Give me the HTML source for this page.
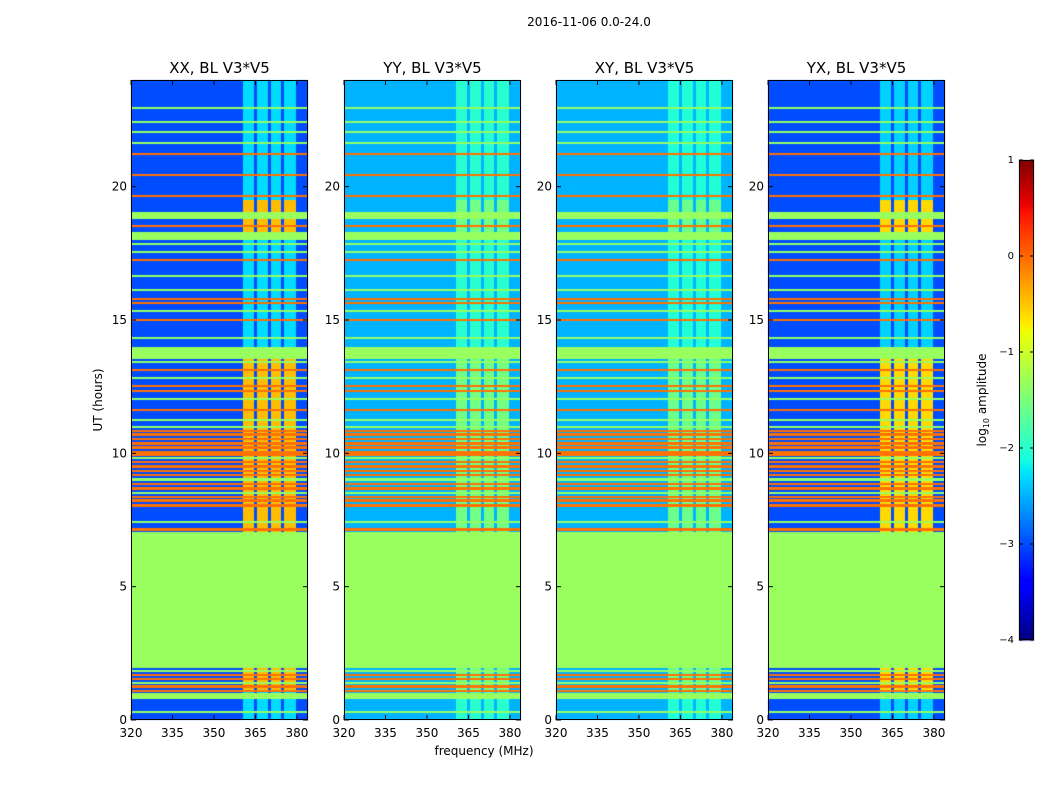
<!DOCTYPE html>
<html><head><meta charset="utf-8">
<style>
body{margin:0;background:#fff;width:1050px;height:800px;overflow:hidden;position:relative;font-family:"DejaVu Sans","Liberation Sans",sans-serif;}
canvas{position:absolute;display:block}
svg{position:absolute;left:0;top:0}
</style></head>
<body>
<canvas id="heat" width="1050" height="800"></canvas>
<svg id="ax" width="1050" height="800"></svg>
<script>
// ---- data ----
const panelTitles = ["XX, BL V3*V5","YY, BL V3*V5","XY, BL V3*V5","YX, BL V3*V5"];
const panelBase = [-3.0,-2.5,-2.5,-3.0];        // background log10 amplitude
const panelActive = [-2.3,-2.0,-2.05,-2.35];    // 360-380 MHz region
const panelHot = [-0.45,-1.55,-1.6,-0.6];       // hot spans in region
const activeRange = [360.4,379.7];
const gapFreqs = [365,370,374.8];
const hotSpans = [[1.1,1.95],[7.05,13.55],[18.3,19.5]];
// full-width bands: [startHour, endHour, log10 amplitude]
const bands = [
[0.28,0.35,-1.35],[0.8,1.0,-1.32],[1.04,1.13,-0.05],[1.2,1.3,-0.05],[1.35,1.43,-1.35],[1.49,1.57,-0.05],[1.65,1.73,-0.05],[1.8,1.87,-1.35],
[1.95,7.05,-1.32],[7.1,7.2,-0.05],[7.4,7.47,-1.35],
[8.0,8.1,-0.05],[8.18,8.27,-0.05],[8.33,8.41,-0.05],[8.48,8.55,-1.35],[8.62,8.72,-0.05],[8.8,8.9,-0.05],[8.96,9.06,-1.35],
[9.14,9.24,-0.05],[9.3,9.39,-0.05],[9.46,9.56,-0.05],[9.62,9.71,-0.05],[9.78,9.85,-1.35],[9.9,10.1,-0.05],[10.18,10.27,-0.05],
[10.32,10.42,-0.05],[10.5,10.59,-0.05],[10.66,10.75,-0.05],[10.8,10.89,-0.05],[10.94,11.02,-1.35],
[11.2,11.27,-1.35],[11.6,11.68,-0.05],[12.0,12.07,-1.35],[12.3,12.38,-0.05],[12.5,12.58,-0.05],[12.8,12.87,-1.35],[13.1,13.18,-0.05],
[13.4,13.47,-1.35],[13.55,14.0,-1.32],[14.3,14.37,-1.35],[14.97,15.05,-0.05],[15.3,15.37,-1.35],[15.6,15.68,-0.05],[15.75,15.82,-0.05],
[16.1,16.17,-1.35],[16.6,16.67,-1.35],[17.2,17.28,-0.05],[17.5,17.57,-1.35],[17.8,17.87,-1.35],[18.0,18.3,-1.32],[18.5,18.58,-0.05],
[18.8,19.05,-1.32],[19.6,19.67,-0.05],[20.4,20.47,-0.05],[21.2,21.27,-0.05],[21.6,21.67,-1.35],[22.0,22.07,-1.35],[22.4,22.47,-1.35],[22.9,22.97,-1.35]
];
const xTicks = [320,335,350,365,380];
const yTicks = [0,5,10,15,20];
const cbTicks = [-4,-3,-2,-1,0,1];

// ---- geometry ----
const px0 = [131,344,556,768], pw = 177, py0 = 80, ph = 640;
const fMin = 320, fMax = 384, hMax = 24;
const xS = (i,f)=> px0[i] + (f-fMin)/(fMax-fMin)*pw;
const xInv = (i,x)=> fMin + (x-px0[i])/pw*(fMax-fMin);
const yS = h => py0 + ph - h/hMax*ph;
const yInv = y => (py0+ph-y)/ph*hMax;
// matplotlib jet segment data
const R=[[0,0],[0.35,0],[0.66,1],[0.89,1],[1,0.5]], G=[[0,0],[0.125,0],[0.375,1],[0.64,1],[0.91,0],[1,0]], B=[[0,0.5],[0.11,1],[0.34,1],[0.65,0],[1,0]];
function seg(s,t){for(let k=1;k<s.length;k++){if(t<=s[k][0]){const a=s[k-1],b=s[k];return a[1]+(b[1]-a[1])*(t-a[0])/(b[0]-a[0]);}}return s[s.length-1][1];}
function jetRGB(v){const t=Math.max(0,Math.min(1,(v+4)/5));return [seg(R,t),seg(G,t),seg(B,t)].map(x=>Math.round(255*x));}

const ctx = document.getElementById('heat').getContext('2d');
function level(i,h,f){
  for(const b of bands){ if(h>=b[0]&&h<b[1]) return b[2]; }
  if(f>=activeRange[0]&&f<activeRange[1]){
    for(const g of gapFreqs){ if(Math.abs(f-g)<0.6) return panelBase[i]; }
    for(const s of hotSpans){ if(h>=s[0]&&h<s[1]) return panelHot[i]; }
    return panelActive[i];
  }
  return panelBase[i];
}
for(let i=0;i<4;i++){
  const img = ctx.createImageData(pw,ph);
  for(let r=0;r<ph;r++){
    const h=yInv(py0+r+0.5);
    for(let c=0;c<pw;c++){
      const f=xInv(i,px0[i]+c+0.5);
      const col=jetRGB(level(i,h,f));
      const o=(r*pw+c)*4;
      img.data[o]=col[0];img.data[o+1]=col[1];img.data[o+2]=col[2];img.data[o+3]=255;
    }
  }
  ctx.putImageData(img,px0[i],py0);
}
// colorbar
for(let k=0;k<480;k++){const c=jetRGB(-4+5*k/480);ctx.fillStyle=`rgb(${c[0]},${c[1]},${c[2]})`;ctx.fillRect(1019,640-k-1,15,1.5);}

// ---- axes svg ----
const svg = document.getElementById('ax'), NS="http://www.w3.org/2000/svg";
function el(tag,attrs,txt){const e=document.createElementNS(NS,tag);for(const k in attrs)e.setAttribute(k,attrs[k]);if(txt!==undefined)e.textContent=txt;svg.appendChild(e);return e;}
for(let i=0;i<4;i++){
  const f=el('rect',{x:px0[i]+0.5,y:py0+0.5,width:pw-1,height:ph-1,fill:'none',stroke:'#000','stroke-width':1});
  
  
  const t=el('text',{x:px0[i]+pw/2,y:73,'text-anchor':'middle','font-size':15},panelTitles[i]);
  
  
  for(const v of xTicks){const x=xS(i,v);
    el('line',{x1:x,x2:x,y1:py0+ph,y2:py0+ph-5,stroke:'#000'});el('line',{x1:x,x2:x,y1:py0,y2:py0+5,stroke:'#000'});
    const l=el('text',{x:x,y:737,'text-anchor':'middle','font-size':12},String(v));
    
    }
  for(const v of yTicks){const y=yS(v);
    el('line',{x1:px0[i],x2:px0[i]+5,y1:y,y2:y,stroke:'#000'});el('line',{x1:px0[i]+pw,x2:px0[i]+pw-5,y1:y,y2:y,stroke:'#000'});
    const l=el('text',{x:px0[i]-4,y:y+4,'text-anchor':'end','font-size':12},String(v));
    
    }
}
const st=el('text',{x:589,y:26,'text-anchor':'middle','font-size':12},'2016-11-06 0.0-24.0');


const xl=el('text',{x:484,y:755,'text-anchor':'middle','font-size':12},'frequency (MHz)');


const yl=el('text',{x:102,y:400,'text-anchor':'middle','font-size':12,transform:'rotate(-90 102 400)'},'UT (hours)');


const cbf=el('rect',{x:1019.5,y:160.5,width:14,height:479,fill:'none',stroke:'#000'});


for(const v of cbTicks){const y=640-(v+4)/5*480;
  el('line',{x1:1019,x2:1023,y1:y,y2:y,stroke:'#000'});el('line',{x1:1034,x2:1030,y1:y,y2:y,stroke:'#000'});
  const l=el('text',{x:1014,y:y+3,'text-anchor':'end','font-size':10},v<0?'\u2212'+(-v):String(v));
  
  }
const cl=el('text',{x:986,y:400,'text-anchor':'middle','font-size':12,transform:'rotate(-90 986 400)'});


cl.innerHTML='log<tspan font-size="8" dy="3">10</tspan><tspan dy="-3"> amplitude</tspan>';
</script>
</body></html>
